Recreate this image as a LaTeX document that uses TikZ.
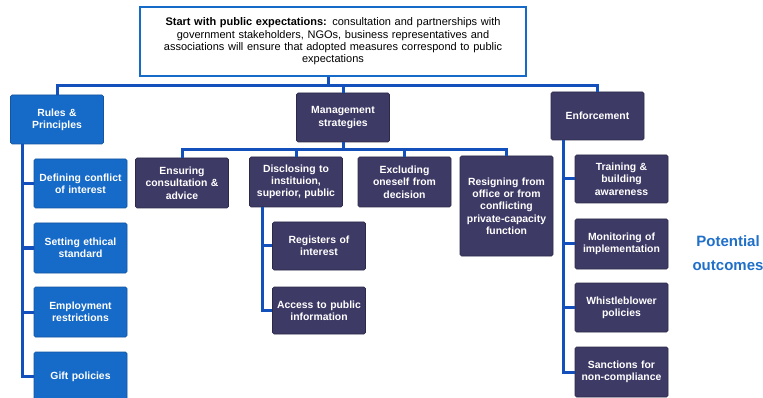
\documentclass[tikz,border=0pt]{standalone}
\usepackage{fontspec}
\setmainfont{Liberation Sans}
\definecolor{rp}{RGB}{22,106,200}
\definecolor{ms}{RGB}{62,58,102}
\definecolor{ln}{RGB}{20,80,188}
\definecolor{po}{RGB}{32,112,200}
\tikzset{
 base/.style={rounded corners=1.5pt, text=white, font=\fontsize{10.4}{12.3}\selectfont\bfseries, align=center, inner sep=2pt, minimum width=93pt, minimum height=49pt, text width=89pt},
 bluebox/.style={base, fill=rp, draw=rp!80!black, line width=0.6pt},
 darkbox/.style={base, fill=ms, draw=ms!70!black, line width=0.6pt},
 conn/.style={draw=ln, line width=3pt},
 outtxt/.style={font=\fontsize{15}{23}\selectfont\bfseries, text=po, anchor=base},
}
\begin{document}
\begin{tikzpicture}[x=1pt,y=-1pt]
\useasboundingbox (0,0) rectangle (763,398);
\fill[white] (0,0) rectangle (763,398);

% top box
\node[draw=rp, line width=2.6pt, minimum width=386pt, minimum height=69pt, text width=378pt, align=center, inner sep=2pt, font=\fontsize{11}{12.3}\selectfont] (top) at (333,41.5)
 {\textbf{Start with public expectations:} consultation and partnerships with\\ government stakeholders, NGOs, business representatives and\\ associations will ensure that adopted measures correspond to public\\ expectations};

% level 1
\node[bluebox] (rules) at (57,119.5) {Rules \&\\Principles};
\node[darkbox, minimum width=92pt] (mgmt) at (343,117.5) {Management\\strategies};
\node[darkbox, minimum width=91pt, minimum height=48pt] (enf) at (597.5,116) {Enforcement};

% rules children
\node[bluebox] (def) at (80.5,183.5) {Defining conflict\\of interest};
\node[bluebox, minimum height=50pt] (set) at (80.5,248) {Setting ethical\\standard};
\node[bluebox, minimum height=50pt] (emp) at (80.5,312) {Employment\\restrictions};
\node[bluebox] (gift) at (80.5,376.5) {Gift policies};

% management children
\node[darkbox, minimum width=92pt, minimum height=50pt] (ens) at (182,183) {Ensuring\\consultation \&\\advice};
\node[darkbox, minimum width=92pt, minimum height=50pt] (disc) at (296,182) {Disclosing to\\instituion,\\superior, public};
\node[darkbox, minimum height=50pt] (excl) at (404.5,182) {Excluding\\oneself from\\decision};
\node[darkbox, minimum height=100pt] (resign) at (506.5,206) {Resigning from\\office or from\\conflicting\\private-capacity\\function};
\node[darkbox, minimum width=92pt, minimum height=48pt] (reg) at (319,246) {Registers of\\interest};
\node[darkbox, minimum width=92pt, minimum height=47pt] (acc) at (319,310.5) {Access to public\\information};

% enforcement children
\node[darkbox, minimum height=48pt] (train) at (621.5,179) {Training \&\\building\\awareness};
\node[darkbox, minimum height=50pt] (mon) at (621.5,244) {Monitoring of\\implementation};
\node[darkbox] (whist) at (621.5,307.5) {Whistleblower\\policies};
\node[darkbox, minimum height=50pt] (sanc) at (621.5,372) {Sanctions for\\non-compliance};

% potential outcomes
\node[outtxt] (po1) at (728,247) {Potential};
\node[outtxt] (po2) at (728,270) {outcomes};

% connectors: top level
\coordinate (hub) at (328,86);
\draw[conn] (top.south -| hub) -- (hub);
\draw[conn] (rules.north) |- (hub) -| (enf.north);
\draw[conn] (mgmt.north) -- (mgmt.north |- hub);

% rules spine
\coordinate (ls) at (22,144);
\draw[conn] (ls) -- (ls |- gift.west) -- (gift.west);
\draw[conn] (ls |- def.west) -- (def.west);
\draw[conn] (ls |- set.west) -- (set.west);
\draw[conn] (ls |- emp.west) -- (emp.west);

% management bar
\coordinate (mh) at (343,150);
\draw[conn] (mgmt.south) -- (mh);
\draw[conn] (ens.north) |- (mh) -| (resign.north);
\draw[conn] (disc.north) -- (disc.north |- mh);
\draw[conn] (excl.north) -- (excl.north |- mh);

% disclosing spine
\coordinate (ds) at (262,207);
\draw[conn] (ds) -- (ds |- acc.west) -- (acc.west);
\draw[conn] (ds |- reg.west) -- (reg.west);

% enforcement spine
\coordinate (es) at (563,140);
\draw[conn] (es) -- (es |- sanc.west) -- (sanc.west);
\draw[conn] (es |- train.west) -- (train.west);
\draw[conn] (es |- mon.west) -- (mon.west);
\draw[conn] (es |- whist.west) -- (whist.west);
\end{tikzpicture}
\end{document}
